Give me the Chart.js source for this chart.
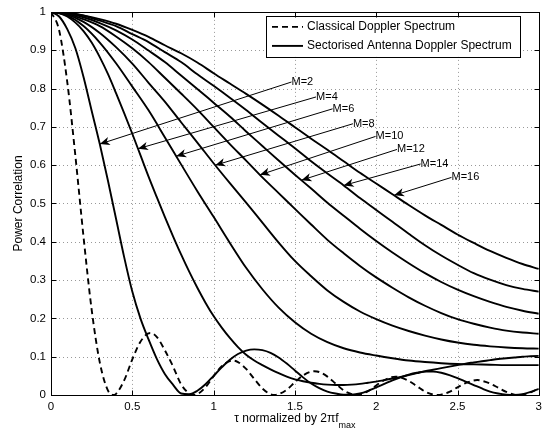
<!DOCTYPE html>
<html>
<head>
<meta charset="utf-8">
<script src="https://cdn.jsdelivr.net/npm/chart.js@4.4.1/dist/chart.umd.min.js"></script>
<style>
  html, body { margin: 0; padding: 0; background: #fff; }
  #wrap { width: 547px; height: 432px; }
</style>
</head>
<body>
<div id="wrap"><canvas id="chart" width="547" height="432"></canvas></div>
<script>
// tau axis samples (normalized by 2*pi*f_max)
const tauFine = [0, 0.05, 0.1, 0.15, 0.2, 0.25, 0.3, 0.35, 0.4, 0.45,
  0.5, 0.55, 0.6, 0.65, 0.7, 0.75, 0.8, 0.85, 0.9, 0.95,
  1, 1.05, 1.1, 1.15, 1.2, 1.25, 1.3, 1.35, 1.4, 1.45,
  1.5, 1.55, 1.6, 1.65, 1.7, 1.75, 1.8, 1.85, 1.9, 1.95,
  2, 2.05, 2.1, 2.15, 2.2, 2.25, 2.3, 2.35, 2.4, 2.45,
  2.5, 2.55, 2.6, 2.65, 2.7, 2.75, 2.8, 2.85, 2.9, 2.95, 3];
const tauCoarse = [0, 0.1, 0.2, 0.3, 0.4, 0.5, 0.6, 0.7, 0.8, 0.9,
  1, 1.1, 1.2, 1.3, 1.4, 1.5, 1.6, 1.7, 1.8, 1.9,
  2, 2.1, 2.2, 2.3, 2.4, 2.5, 2.6, 2.7, 2.8, 2.9, 3];
const tauClassical = [0, 0.05, 0.1, 0.15, 0.2, 0.25, 0.3, 0.35, 0.383, 0.4,
  0.45, 0.5, 0.55, 0.61, 0.65, 0.7, 0.75, 0.8, 0.85, 0.878,
  0.9, 0.95, 1.0, 1.05, 1.117, 1.15, 1.2, 1.25, 1.3, 1.35,
  1.377, 1.4, 1.45, 1.5, 1.55, 1.619, 1.65, 1.7, 1.75, 1.8,
  1.85, 1.877, 1.9, 1.95, 2.0, 2.05, 2.12, 2.15, 2.2, 2.25,
  2.3, 2.35, 2.377, 2.4, 2.45, 2.5, 2.55, 2.621, 2.65, 2.7,
  2.75, 2.8, 2.85, 2.877, 2.9, 2.95, 3.0];

// power correlation values
const classical = [1, 0.952, 0.817, 0.624, 0.413, 0.223, 0.085, 0.012, 0, 0.003,
  0.038, 0.093, 0.139, 0.162, 0.152, 0.117, 0.075, 0.028, 0.004, 0,
  0.002, 0.02, 0.049, 0.075, 0.09, 0.086, 0.068, 0.042, 0.017, 0.002,
  0, 0.002, 0.014, 0.033, 0.051, 0.062, 0.06, 0.048, 0.03, 0.012,
  0.002, 0, 0.001, 0.01, 0.025, 0.039, 0.048, 0.046, 0.037, 0.023,
  0.009, 0.001, 0, 0.001, 0.008, 0.02, 0.031, 0.039, 0.037, 0.03,
  0.019, 0.008, 0.001, 0, 0.001, 0.007, 0.017];
const sectorM2 = [1, 0.988, 0.955, 0.905, 0.83, 0.742, 0.655, 0.56, 0.46, 0.36,
  0.27, 0.2, 0.145, 0.095, 0.055, 0.027, 0.004, 0.002, 0.011, 0.028,
  0.05, 0.072, 0.092, 0.107, 0.116, 0.119, 0.117, 0.11, 0.098, 0.082,
  0.064, 0.046, 0.03, 0.018, 0.009, 0.004, 0.001, 0.001, 0.004, 0.011,
  0.02, 0.029, 0.038, 0.046, 0.053, 0.058, 0.061, 0.061, 0.058, 0.052,
  0.044, 0.035, 0.026, 0.017, 0.009, 0.004, 0.001, 0, 0.002, 0.008, 0.016];
const sectorM4 = [1, 0.997, 0.988, 0.972, 0.95, 0.92, 0.882, 0.838, 0.788, 0.736,
  0.682, 0.626, 0.57, 0.517, 0.465, 0.415, 0.367, 0.322, 0.28, 0.241,
  0.206, 0.176, 0.149, 0.125, 0.105, 0.09, 0.078, 0.067, 0.057, 0.048,
  0.041, 0.036, 0.032, 0.029, 0.027, 0.026, 0.026, 0.027, 0.029, 0.032,
  0.035, 0.039, 0.043, 0.047, 0.052, 0.057, 0.062, 0.066, 0.07, 0.074,
  0.078, 0.082, 0.085, 0.088, 0.091, 0.094, 0.096, 0.098, 0.1, 0.101, 0.102];
const sectorM6 = [1, 0.99, 0.963, 0.92, 0.866, 0.805, 0.743, 0.673, 0.602, 0.532,
  0.465, 0.397, 0.332, 0.276, 0.228, 0.19, 0.16, 0.138, 0.122, 0.111,
  0.103, 0.096, 0.09, 0.086, 0.083, 0.081, 0.08, 0.079, 0.078, 0.078, 0.078];
const sectorM8 = [1, 0.993, 0.974, 0.945, 0.908, 0.865, 0.815, 0.766, 0.712, 0.659,
  0.605, 0.553, 0.502, 0.45, 0.398, 0.35, 0.31, 0.273, 0.243, 0.218,
  0.198, 0.181, 0.167, 0.155, 0.145, 0.137, 0.131, 0.127, 0.124, 0.122, 0.121];
const sectorM10 = [1, 0.995, 0.981, 0.963, 0.936, 0.905, 0.869, 0.828, 0.787, 0.745,
  0.7, 0.655, 0.612, 0.568, 0.527, 0.486, 0.445, 0.405, 0.37, 0.337,
  0.307, 0.28, 0.255, 0.233, 0.214, 0.198, 0.186, 0.176, 0.168, 0.163, 0.16];
const sectorM12 = [1, 0.996, 0.986, 0.971, 0.952, 0.928, 0.899, 0.869, 0.834, 0.799,
  0.763, 0.727, 0.688, 0.65, 0.612, 0.575, 0.539, 0.502, 0.468, 0.434,
  0.402, 0.372, 0.344, 0.318, 0.295, 0.275, 0.258, 0.243, 0.23, 0.22, 0.212];
const sectorM14 = [1, 0.997, 0.99, 0.977, 0.963, 0.942, 0.921, 0.895, 0.869, 0.837,
  0.807, 0.776, 0.744, 0.71, 0.677, 0.644, 0.61, 0.578, 0.547, 0.514,
  0.483, 0.452, 0.421, 0.391, 0.364, 0.34, 0.318, 0.301, 0.287, 0.277, 0.27];
const sectorM16 = [1, 0.997, 0.991, 0.981, 0.969, 0.953, 0.935, 0.913, 0.892, 0.868,
  0.84, 0.813, 0.786, 0.758, 0.729, 0.699, 0.669, 0.64, 0.61, 0.58,
  0.552, 0.524, 0.496, 0.469, 0.444, 0.419, 0.397, 0.376, 0.358, 0.342, 0.329];

const sectorNames = ['M=2', 'M=4', 'M=6', 'M=8', 'M=10', 'M=12', 'M=14', 'M=16'];
const legendLabels = ['Classical Doppler Spectrum', 'Sectorised Antenna Doppler Spectrum'];
const xTickLabels = ['0', '0.5', '1', '1.5', '2', '2.5', '3'];
const yTickLabels = ['0', '0.1', '0.2', '0.3', '0.4', '0.5', '0.6', '0.7', '0.8', '0.9', '1'];

// where each "M=" label sits and where its arrow touches the curve (data units)
const labelTau = [1.479, 1.63, 1.732, 1.857, 1.996, 2.128, 2.273, 2.463];
const labelCorr = [0.817, 0.778, 0.747, 0.708, 0.675, 0.641, 0.603, 0.568];
const arrowTau = [0.3, 0.535, 0.77, 1.01, 1.285, 1.54, 1.8, 2.11];

const FONT = '"Liberation Sans", Arial, Helvetica, sans-serif';

const sectorSeries = [
  [tauFine, sectorM2], [tauFine, sectorM4], [tauCoarse, sectorM6], [tauCoarse, sectorM8],
  [tauCoarse, sectorM10], [tauCoarse, sectorM12], [tauCoarse, sectorM14], [tauCoarse, sectorM16],
];

function zip(xs, ys) {
  return xs.map((x, i) => ({ x, y: ys[i] }));
}

function valueAt(xs, ys, x) {
  for (let i = 1; i < xs.length; i++) {
    if (x <= xs[i]) {
      const t = (x - xs[i - 1]) / (xs[i] - xs[i - 1]);
      return ys[i - 1] + t * (ys[i] - ys[i - 1]);
    }
  }
  return ys[ys.length - 1];
}

const lineStyle = {
  borderColor: '#000',
  borderWidth: 1.9,
  pointRadius: 0,
  fill: false,
  cubicInterpolationMode: 'monotone',
};

const datasets = [
  { label: legendLabels[0], data: zip(tauClassical, classical), borderDash: [6, 4], ...lineStyle },
  ...sectorSeries.map(([xs, ys], i) => ({ label: sectorNames[i], data: zip(xs, ys), ...lineStyle })),
];

const gridPlugin = {
  id: 'matlabGrid',
  beforeDatasetsDraw(chart) {
    const { ctx, chartArea: a, scales: { x, y } } = chart;
    ctx.save();
    ctx.strokeStyle = '#999';
    ctx.lineWidth = 1;
    ctx.setLineDash([1, 3]);
    for (const t of x.ticks) {
      if (t.value <= x.min || t.value >= x.max) continue;
      const px = Math.round(x.getPixelForValue(t.value)) + 0.5;
      ctx.beginPath();
      ctx.moveTo(px, a.top);
      ctx.lineTo(px, a.bottom);
      ctx.stroke();
    }
    for (const t of y.ticks) {
      if (t.value <= y.min || t.value >= y.max) continue;
      const py = Math.round(y.getPixelForValue(t.value)) + 0.5;
      ctx.beginPath();
      ctx.moveTo(a.left, py);
      ctx.lineTo(a.right, py);
      ctx.stroke();
    }
    ctx.restore();
  },
};

function drawArrowHead(ctx, tx, ty, fx, fy) {
  const ang = Math.atan2(ty - fy, tx - fx);
  const len = 10;
  const half = 4.2;
  ctx.save();
  ctx.translate(tx, ty);
  ctx.rotate(ang);
  ctx.beginPath();
  ctx.moveTo(0, 0);
  ctx.lineTo(-len, -half);
  ctx.lineTo(-len * 0.72, 0);
  ctx.lineTo(-len, half);
  ctx.closePath();
  ctx.fill();
  ctx.restore();
}

const annotationPlugin = {
  id: 'sectorLabels',
  afterDatasetsDraw(chart) {
    const { ctx, scales: { x, y } } = chart;
    ctx.save();
    ctx.strokeStyle = '#000';
    ctx.fillStyle = '#000';
    ctx.lineWidth = 1;
    ctx.font = `11px ${FONT}`;
    ctx.textBaseline = 'middle';
    ctx.textAlign = 'left';
    sectorNames.forEach((name, i) => {
      const [xs, ys] = sectorSeries[i];
      const lx = x.getPixelForValue(labelTau[i]);
      const ly = y.getPixelForValue(labelCorr[i]);
      const tx = x.getPixelForValue(arrowTau[i]);
      const ty = y.getPixelForValue(valueAt(xs, ys, arrowTau[i]));
      ctx.beginPath();
      ctx.moveTo(lx, ly);
      ctx.lineTo(tx, ty);
      ctx.stroke();
      drawArrowHead(ctx, tx, ty, lx, ly);
      ctx.fillText(name, lx, ly);
    });
    ctx.restore();
  },
};

const legendPlugin = {
  id: 'boxLegend',
  afterDatasetsDraw(chart) {
    const { ctx, chartArea: a } = chart;
    const left = a.left + 215;
    const top = a.top + 4;
    const w = 254;
    const h = 41;
    ctx.save();
    ctx.fillStyle = '#fff';
    ctx.fillRect(left, top, w, h);
    ctx.strokeStyle = '#000';
    ctx.lineWidth = 1;
    ctx.strokeRect(Math.round(left) + 0.5, Math.round(top) + 0.5, w, h);
    ctx.font = `12px ${FONT}`;
    ctx.textBaseline = 'middle';
    ctx.fillStyle = '#000';
    const rows = [chart.data.datasets[0], chart.data.datasets[1]];
    rows.forEach((ds, i) => {
      const cy = top + 11 + i * 19;
      ctx.strokeStyle = ds.borderColor;
      ctx.lineWidth = ds.borderWidth;
      ctx.setLineDash(ds.borderDash || []);
      ctx.beginPath();
      ctx.moveTo(left + 6, cy);
      ctx.lineTo(left + 37, cy);
      ctx.stroke();
      ctx.setLineDash([]);
      ctx.fillText(legendLabels[i], left + 41, cy);
    });
    ctx.restore();
  },
};

const framePlugin = {
  id: 'matlabFrame',
  afterDatasetsDraw(chart) {
    const { ctx, chartArea: a, scales: { x, y } } = chart;
    ctx.save();
    ctx.strokeStyle = '#000';
    ctx.lineWidth = 1;
    const L = Math.round(a.left) + 0.5;
    const R = Math.round(a.right) + 0.5;
    const T = Math.round(a.top) + 0.5;
    const B = Math.round(a.bottom) + 0.5;
    ctx.strokeRect(L, T, R - L, B - T);
    const tick = 5;
    ctx.beginPath();
    for (const t of x.ticks) {
      const px = Math.round(x.getPixelForValue(t.value)) + 0.5;
      ctx.moveTo(px, B); ctx.lineTo(px, B - tick);
      ctx.moveTo(px, T); ctx.lineTo(px, T + tick);
    }
    for (const t of y.ticks) {
      const py = Math.round(y.getPixelForValue(t.value)) + 0.5;
      ctx.moveTo(L, py); ctx.lineTo(L + tick, py);
      ctx.moveTo(R, py); ctx.lineTo(R - tick, py);
    }
    ctx.stroke();
    ctx.restore();
  },
};

const titlesPlugin = {
  id: 'axisTitles',
  afterDraw(chart) {
    const { ctx, chartArea: a } = chart;
    ctx.save();
    ctx.fillStyle = '#000';
    ctx.textBaseline = 'alphabetic';
    ctx.textAlign = 'left';
    const main = 'τ normalized by 2πf';
    const sub = 'max';
    ctx.font = `12px ${FONT}`;
    const wMain = ctx.measureText(main).width;
    ctx.font = `9px ${FONT}`;
    const wSub = ctx.measureText(sub).width;
    const startX = (a.left + a.right) / 2 - (wMain + wSub) / 2;
    ctx.font = `12px ${FONT}`;
    ctx.fillText(main, startX, a.bottom + 27);
    ctx.font = `9px ${FONT}`;
    ctx.fillText(sub, startX + wMain, a.bottom + 33);

    ctx.translate(19, (a.top + a.bottom) / 2);
    ctx.rotate(-Math.PI / 2);
    ctx.font = `12px ${FONT}`;
    ctx.textAlign = 'center';
    ctx.textBaseline = 'middle';
    ctx.fillText('Power Correlation', 0, 0);
    ctx.restore();
  },
};

new Chart(document.getElementById('chart'), {
  type: 'line',
  data: { datasets },
  options: {
    responsive: false,
    animation: false,
    events: [],
    layout: { padding: { top: 10, right: 4, left: 0, bottom: 0 } },
    plugins: { legend: { display: false }, tooltip: { enabled: false } },
    scales: {
      x: {
        type: 'linear',
        min: 0,
        max: 3,
        afterFit: (scale) => { scale.height = 37; },
        grid: { display: false, drawTicks: false },
        border: { display: false },
        ticks: {
          stepSize: 0.5,
          autoSkip: false,
          maxRotation: 0,
          padding: 5,
          color: '#000',
          font: { family: FONT, size: 11.5 },
          callback: (value, index) => xTickLabels[index],
        },
      },
      y: {
        type: 'linear',
        min: 0,
        max: 1,
        afterFit: (scale) => { scale.width = 51; },
        grid: { display: false, drawTicks: false },
        border: { display: false },
        ticks: {
          stepSize: 0.1,
          autoSkip: false,
          padding: 5,
          color: '#000',
          font: { family: FONT, size: 11.5 },
          callback: (value, index) => yTickLabels[index],
        },
      },
    },
  },
  plugins: [gridPlugin, annotationPlugin, legendPlugin, framePlugin, titlesPlugin],
});
</script>
</body>
</html>
